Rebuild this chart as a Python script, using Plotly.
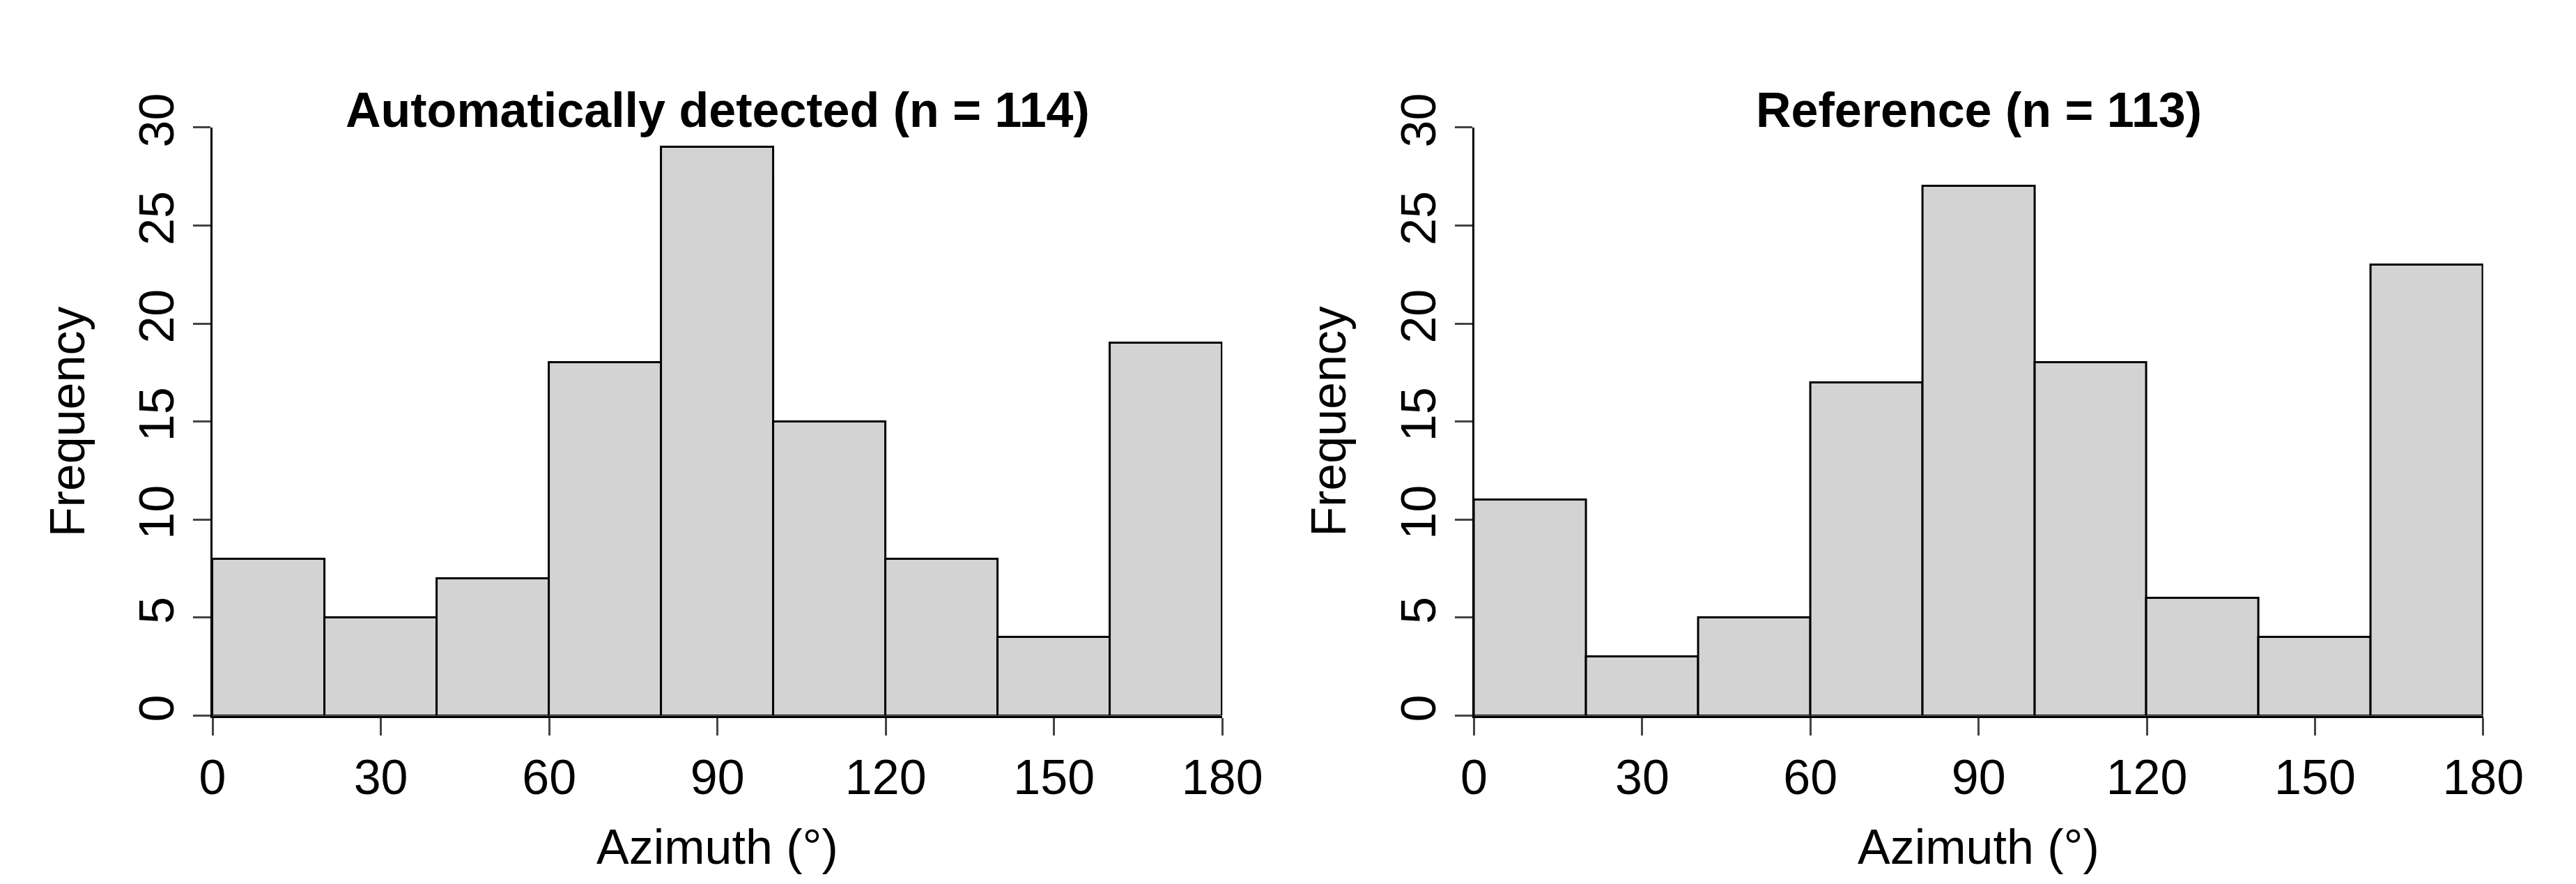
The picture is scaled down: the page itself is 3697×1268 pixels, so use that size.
import plotly.graph_objects as go

bin_starts = [0, 20, 40, 60, 80, 100, 120, 140, 160]
auto_counts = [8, 5, 7, 18, 29, 15, 8, 4, 19]
ref_counts = [11, 3, 5, 17, 27, 18, 6, 4, 23]
titles = ["Automatically detected (n = 114)", "Reference (n = 113)"]
x_ticks = [0, 30, 60, 90, 120, 150, 180]
y_ticks = [0, 5, 10, 15, 20, 25, 30]

W, H = 3697, 1268
FONT = "Liberation Sans, Arial"
FS = 70
fig = go.Figure()
doms = [(284 / W, 1764 / W), (2133 / W, 3612 / W)]
ydom = (1 - 1016 / H, 1 - 132 / H)
centers = [s + 10 for s in bin_starts]
for i, counts in enumerate([auto_counts, ref_counts]):
    sfx = "" if i == 0 else "2"
    fig.add_trace(go.Bar(x=centers, y=counts, width=20, marker=dict(color="#D3D3D3", line=dict(color="black", width=3)),
                         xaxis="x" + sfx, yaxis="y" + sfx, showlegend=False))
    ax = dict(domain=list(doms[i]), range=[0, 180], tickvals=x_ticks, ticks="outside", ticklen=25, tickwidth=3,
              showline=True, linewidth=3, linecolor="black", showgrid=False, zeroline=False,
              tickfont=dict(family=FONT, size=FS, color="black"), anchor="y" + sfx)
    ay = dict(domain=list(ydom), range=[0, 30], tickvals=y_ticks, ticks="outside", ticklen=25, tickwidth=3,
              showline=True, linewidth=3, linecolor="black", showgrid=False, zeroline=False, tickangle=-90,
              tickfont=dict(family=FONT, size=FS, color="black"), anchor="x" + sfx)
    fig.layout["xaxis" + sfx] = ax
    fig.layout["yaxis" + sfx] = ay
    xm = (doms[i][0] + doms[i][1]) / 2
    fig.add_annotation(text="<b>" + titles[i] + "</b>", x=xm, y=1 - 106 / H, xref="paper", yref="paper",
                       xanchor="center", yanchor="middle",
                       showarrow=False, font=dict(family=FONT, size=FS, color="black"))
    fig.add_annotation(text="Azimuth (°)", x=xm, y=1 - 1214 / H, xref="paper", yref="paper",
                       xanchor="center", yanchor="middle",
                       showarrow=False, font=dict(family=FONT, size=FS, color="black"))
    fig.add_annotation(text="Frequency", x=(71 if i == 0 else 1920) / W, y=(ydom[0] + ydom[1]) / 2,
                       xref="paper", yref="paper", textangle=-90, xanchor="center", yanchor="middle",
                       showarrow=False, font=dict(family=FONT, size=FS, color="black"))

fig.update_layout(width=W, height=H, margin=dict(l=0, r=0, t=0, b=0), plot_bgcolor="white",
                  paper_bgcolor="white", bargap=0)
fig.write_html("out.html")
